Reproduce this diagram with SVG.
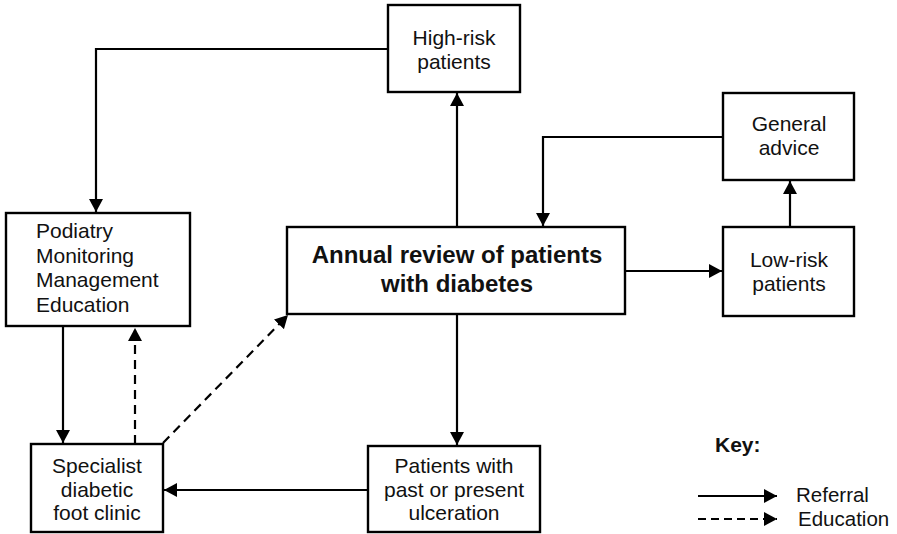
<svg xmlns="http://www.w3.org/2000/svg" width="897" height="534" viewBox="0 0 897 534">
<style>
.box{fill:#fff;stroke:#000;stroke-width:2.4}
.t{font-family:"Liberation Sans",Arial,sans-serif;font-size:21px;fill:#111}
.c{text-anchor:middle}
.b{font-weight:bold;font-size:24px}
.ln{fill:none;stroke:#000;stroke-width:2.2}
.d{stroke-dasharray:9,6}
</style>
<defs>
<marker id="ah" viewBox="0 0 13 14" refX="13" refY="7" markerWidth="13" markerHeight="14" markerUnits="userSpaceOnUse" orient="auto">
<path d="M0,0 L13,7 L0,14 Z" fill="#000"/>
</marker>
</defs>
<g id="connectors">
<path class="ln" d="M388,49 H96 V212" marker-end="url(#ah)"/>
<path class="ln" d="M457,227 V93" marker-end="url(#ah)"/>
<path class="ln" d="M723,137 H543 V226" marker-end="url(#ah)"/>
<path class="ln" d="M625,271 H722" marker-end="url(#ah)"/>
<path class="ln" d="M790,227 V181" marker-end="url(#ah)"/>
<path class="ln" d="M457,314 V445" marker-end="url(#ah)"/>
<path class="ln" d="M368,490 H164" marker-end="url(#ah)"/>
<path class="ln" d="M63,326 V443" marker-end="url(#ah)"/>
<path class="ln d" d="M135,444 V328" marker-end="url(#ah)"/>
<path class="ln d" d="M163,443 L288,315" marker-end="url(#ah)"/>
</g>
<g id="high-risk">
<rect class="box" x="388" y="5" width="132" height="87"/>
<text class="t c" x="454" y="45">High-risk</text>
<text class="t c" x="454" y="69">patients</text>
</g>
<g id="general-advice">
<rect class="box" x="723" y="93" width="131" height="87"/>
<text class="t c" x="789" y="131">General</text>
<text class="t c" x="789" y="155">advice</text>
</g>
<g id="podiatry">
<rect class="box" x="6" y="213" width="184" height="113"/>
<text class="t" x="36" y="238">Podiatry</text>
<text class="t" x="36" y="263">Monitoring</text>
<text class="t" x="36" y="287">Management</text>
<text class="t" x="36" y="312">Education</text>
</g>
<g id="annual-review">
<rect class="box" x="287" y="227" width="338" height="87"/>
<text class="t c b" x="457" y="263">Annual review of patients</text>
<text class="t c b" x="457" y="292">with diabetes</text>
</g>
<g id="low-risk">
<rect class="box" x="723" y="227" width="131" height="89"/>
<text class="t c" x="789" y="267">Low-risk</text>
<text class="t c" x="789" y="291">patients</text>
</g>
<g id="specialist">
<rect class="box" x="31" y="444" width="132" height="88"/>
<text class="t c" x="97" y="473">Specialist</text>
<text class="t c" x="97" y="497">diabetic</text>
<text class="t c" x="97" y="520">foot clinic</text>
</g>
<g id="ulceration">
<rect class="box" x="368" y="446" width="172" height="86"/>
<text class="t c" x="454" y="473">Patients with</text>
<text class="t c" x="454" y="497">past or present</text>
<text class="t c" x="454" y="520">ulceration</text>
</g>
<g id="key">
<text class="t" x="715" y="452" style="font-weight:bold;font-size:21px">Key:</text>
<path class="ln" d="M698,496 H777" marker-end="url(#ah)"/>
<path class="ln d" d="M698,519 H777" marker-end="url(#ah)" style="stroke-dasharray:8,5"/>
<text class="t" x="796" y="502" style="font-size:20.5px">Referral</text>
<text class="t" x="798" y="526" style="font-size:20.5px">Education</text>
</g>
</svg>
